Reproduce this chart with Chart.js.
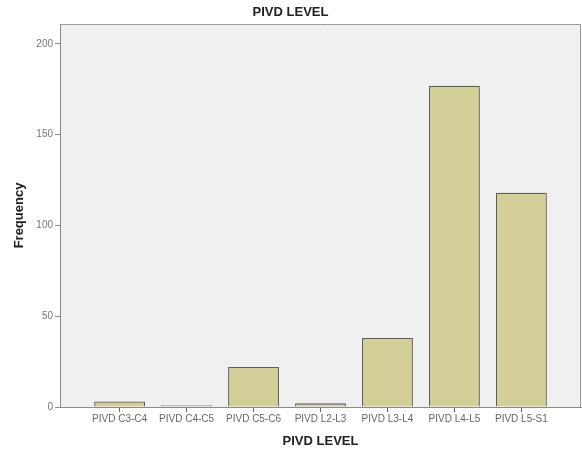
<!DOCTYPE html>
<html>
	<head>
		<meta charset="UTF-8" />
		<title>PIVD LEVEL</title>
		<script src="https://cdn.jsdelivr.net/npm/chart.js"></script>
		<style>
			body { margin: 0; background: #fff; }
			#wrap { width: 582px; height: 450px; }
		</style>
	</head>
	<body>
		<div id="wrap"><canvas id="pivdChart"></canvas></div>
		<script>
			// data
			const levels = ["PIVD C3-C4", "PIVD C4-C5", "PIVD C5-C6", "PIVD L2-L3", "PIVD L3-L4", "PIVD L4-L5", "PIVD L5-S1"];
			const frequency = [3, 1, 22, 2, 38, 177, 118];
			const yTicks = [0, 50, 100, 150, 200];

			// grey plot area with a frame on top and right, like SPSS
			const plotBackground = {
			  id: "plotBackground",
			  beforeDraw(chart) {
			    const { ctx, chartArea: a } = chart;
			    ctx.save();
			    ctx.fillStyle = "#f0f0f0";
			    ctx.fillRect(a.left, a.top, a.right - a.left, a.bottom - a.top);
			    ctx.strokeStyle = "#9a9a9a";
			    ctx.lineWidth = 1;
			    ctx.beginPath();
			    ctx.moveTo(a.left, a.top + 0.5);
			    ctx.lineTo(a.right - 0.5, a.top + 0.5);
			    ctx.lineTo(a.right - 0.5, a.bottom);
			    ctx.stroke();
			    ctx.restore();
			  }
			};

			new Chart(document.getElementById("pivdChart"), {
			  type: "bar",
			  data: {
			    datasets: [{
			      label: "Frequency",
			      data: frequency.map((v, i) => ({ x: i, y: v })),
			      backgroundColor: "#d3cf98",
			      borderColor: "#5e5e54",
			      borderWidth: 1.3,
			      categoryPercentage: 1,
			      barPercentage: 0.76
			    }]
			  },
			  options: {
			    responsive: true,
			    maintainAspectRatio: false,
			    animation: false,
			    layout: { padding: { right: 1 } },
			    plugins: {
			      legend: { display: false },
			      tooltip: { enabled: false },
			      title: {
			        display: true,
			        text: "PIVD LEVEL",
			        color: "#222",
			        font: { family: "Liberation Sans, Arial", size: 13, weight: "bold" },
			        padding: { top: 5, bottom: 3.4 }
			      }
			    },
			    scales: {
			      x: {
			        type: "linear",
			        offset: false,
			        min: -0.89,
			        max: 6.89,
			        afterBuildTicks: axis => { axis.ticks = levels.map((l, i) => ({ value: i })); },
			        afterFit: axis => { axis.height = 43; },
			        ticks: {
			          autoSkip: false,
			          maxRotation: 0,
			          padding: 1,
			          color: "#666",
			          font: { family: "Liberation Sans, Arial", size: 10 },
			          callback: value => levels[value]
			        },
			        grid: { offset: false, drawOnChartArea: false, tickLength: 5, color: "#666" },
			        border: { color: "#8a8a8a" },
			        title: {
			          display: true,
			          text: "PIVD LEVEL",
			          color: "#222",
			          font: { family: "Liberation Sans, Arial", size: 13, weight: "bold" },
			          padding: { top: 0, bottom: 1.2 }
			        }
			      },
			      y: {
			        min: 0,
			        max: 211,
			        afterBuildTicks: axis => { axis.ticks = yTicks.map(v => ({ value: v })); },
			        afterFit: axis => { axis.width = 60; },
			        ticks: {
			          padding: 2,
			          color: "#777",
			          font: { family: "Liberation Sans, Arial", size: 10 }
			        },
			        grid: { drawOnChartArea: false, tickLength: 5, color: "#8a8a8a" },
			        border: { color: "#8a8a8a" },
			        title: {
			          display: true,
			          text: "Frequency",
			          color: "#222",
			          font: { family: "Liberation Sans, Arial", size: 13, weight: "bold" },
			          padding: { top: 12, bottom: 0 }
			        }
			      }
			    }
			  },
			  plugins: [plotBackground]
			});
		</script>
	</body>
</html>
